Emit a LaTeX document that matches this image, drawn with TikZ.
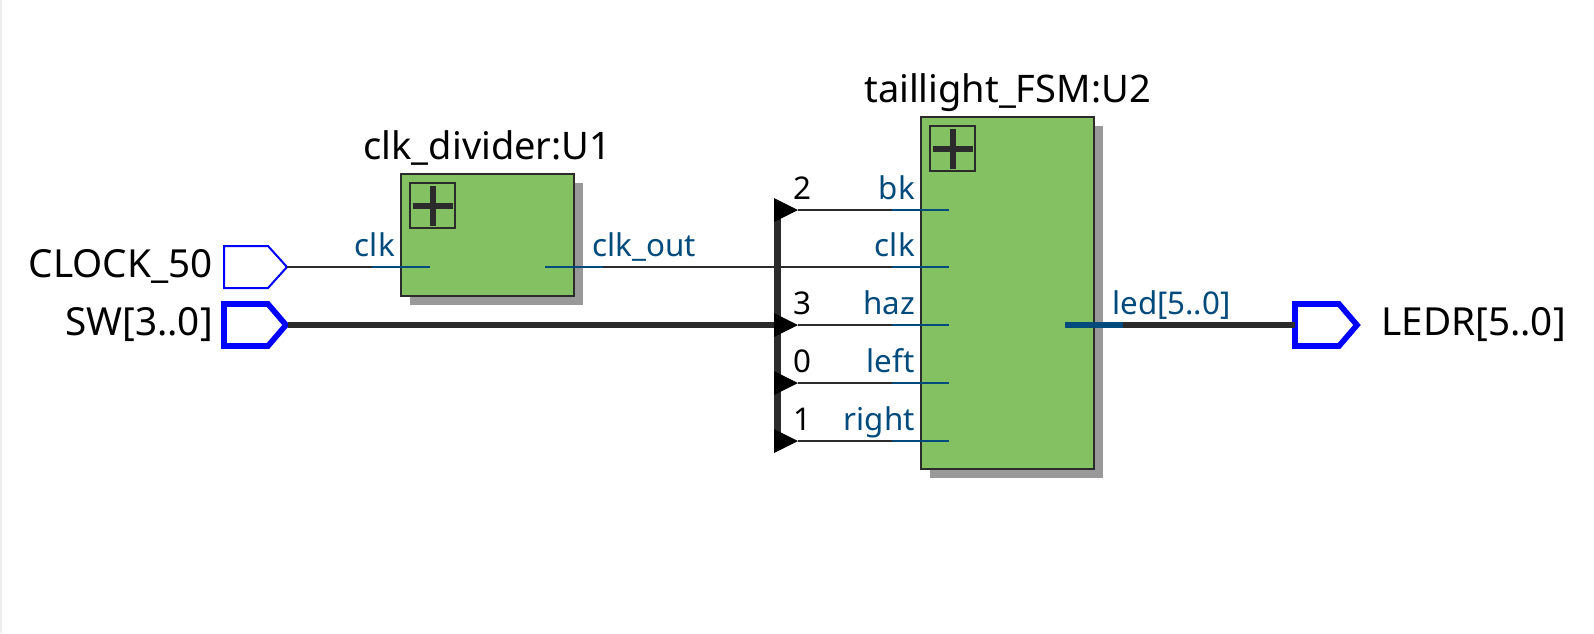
\documentclass[tikz,border=0pt]{standalone}
\usepackage{fontspec}
\setmainfont{Noto Sans}
\usetikzlibrary{positioning, calc, shadows}
\definecolor{blockgreen}{HTML}{84C162}
\definecolor{wiredark}{HTML}{2B2B2B}
\definecolor{pinblue}{HTML}{004A7C}
\tikzset{
    block/.style = {draw = wiredark, line width = 1.5pt, fill = blockgreen, inner sep = 0pt, minimum width = 129.75pt,
        drop shadow = {shadow xshift = 6.75pt, shadow yshift = -6.75pt, fill = black!40, opacity = 1}},
    plusbox/.style = {draw = wiredark, line width = 1.5pt, inner sep = 0pt, minimum size = 33.75pt, anchor = north west},
    plussign/.style = {wiredark, line width = 4.5pt},
    title/.style = {font = \fontsize{28.5}{34}\selectfont, text = black, inner sep = 0pt, text depth = 0pt},
    portname/.style = {font = \fontsize{29}{34}\selectfont, text = black, inner sep = 0pt},
    pinname/.style = {font = \fontsize{23.5}{28}\selectfont, text = pinblue, inner sep = 0pt, anchor = base east},
    bitname/.style = {font = \fontsize{23.5}{28}\selectfont, text = black, inner sep = 0pt, anchor = base west},
    port/.style = {draw = blue, line join = miter, fill = white},
    wire/.style = {wiredark, line width = 1.5pt},
    buswire/.style = {wiredark, line width = 4.5pt},
    pin/.style = {pinblue, line width = 1.5pt},
    buspin/.style = {pinblue, line width = 4.5pt}
}
\begin{document}
\begin{tikzpicture}[x = 0.75pt, y = -0.75pt]
    \useasboundingbox (0,0) rectangle (1594,633);
    \fill[black!7] (0,0) rectangle (2,633);
    % Blocchi
    \node[block, minimum height = 91.5pt] (U1) at (487.5,235) {};
    \node[block, minimum height = 264pt] (U2) at (1007.5,293) {};
    \node[title, above = 10pt of U1] (titleU1) {clk\_divider:U1};
    \node[title, above = 10pt of U2] (titleU2) {taillight\_FSM:U2};
    \foreach \b in {U1, U2} {
        \node[plusbox] (plus\b) at ($(\b.north west) + (9,9)$) {};
        \draw[plussign] ($(plus\b.west) + (3.5,0)$) -- ($(plus\b.east) + (-3.5,0)$);
        \draw[plussign] ($(plus\b.north) + (0,3.5)$) -- ($(plus\b.south) + (0,-3.5)$);
    }
    % Porte
    \draw[port, line width = 1.5pt] (224,246) -- ++(44,0) -- ++(19,21) coordinate (tipClock) -- ++(-19,21) -- ++(-44,0) -- cycle;
    \draw[port, line width = 4.25pt] (224,304) -- ++(44,0) -- ++(18,21) coordinate (tipSw) -- ++(-18,21) -- ++(-44,0) -- cycle;
    \draw[port, line width = 4.25pt] (1295,304) coordinate (inLedr) -- ++(44,0) -- ++(18,21) -- ++(-18,21) -- ++(-44,0) -- cycle;
    \node[portname, anchor = base east] (nameClock) at (213,277) {CLOCK\_50};
    \node[portname, anchor = base east] (nameSw) at (213,335) {SW[3..0]};
    \node[portname, anchor = base west] (nameLedr) at (1381,335) {LEDR[5..0]};
    % Bus
    \coordinate (busTop) at (777,210);
    \coordinate (busSw) at (777,325);
    \coordinate (busEnd) at (777,441);
    \draw[buswire, line width = 5.25pt] (busTop) -- (busEnd);
    \draw[buswire] (tipSw) ++(2,0) -- (busSw);
    % Fili
    \draw[wire] (tipClock) -- (372,267) coordinate (inClk);
    \draw[pin] (inClk) -- (430,267);
    \draw[pin] (545,267) -- (603,267) coordinate (outClk);
    \draw[wire] (outClk) -- (892,267) coordinate (inClkU2);
    \draw[pin] (inClkU2) -- (949,267);
    \node[pinname] (pinClkU1) at (395,256) {clk};
    \node[pinname, anchor = base west] (pinOutU1) at (592,256) {clk\_out};
    \node[pinname] (pinClkU2) at (915,256) {clk};
    \foreach \y/\bit/\lab in {210/2/bk, 325/3/haz, 383/0/left, 441/1/right} {
        \fill[black] (774,\y) ++(0,-12) -- ++(24,12) coordinate (tip\lab) -- ++(-24,12) -- cycle;
        \draw[wire] (tip\lab) -- (892,\y) coordinate (in\lab);
        \draw[pin] (in\lab) -- (949,\y);
        \node[bitname] (bit\lab) at (793,\y - 11) {\bit};
        \node[pinname] (pin\lab) at (915,\y - 11) {\lab};
    }
    % Uscita
    \draw[buspin] (1065,325) -- (1123,325) coordinate (outLed);
    \draw[buswire] (outLed) -- (inLedr |- outLed);
    \node[pinname, anchor = base west] (pinLed) at (1112,314) {led[5..0]};
\end{tikzpicture}
\end{document}
